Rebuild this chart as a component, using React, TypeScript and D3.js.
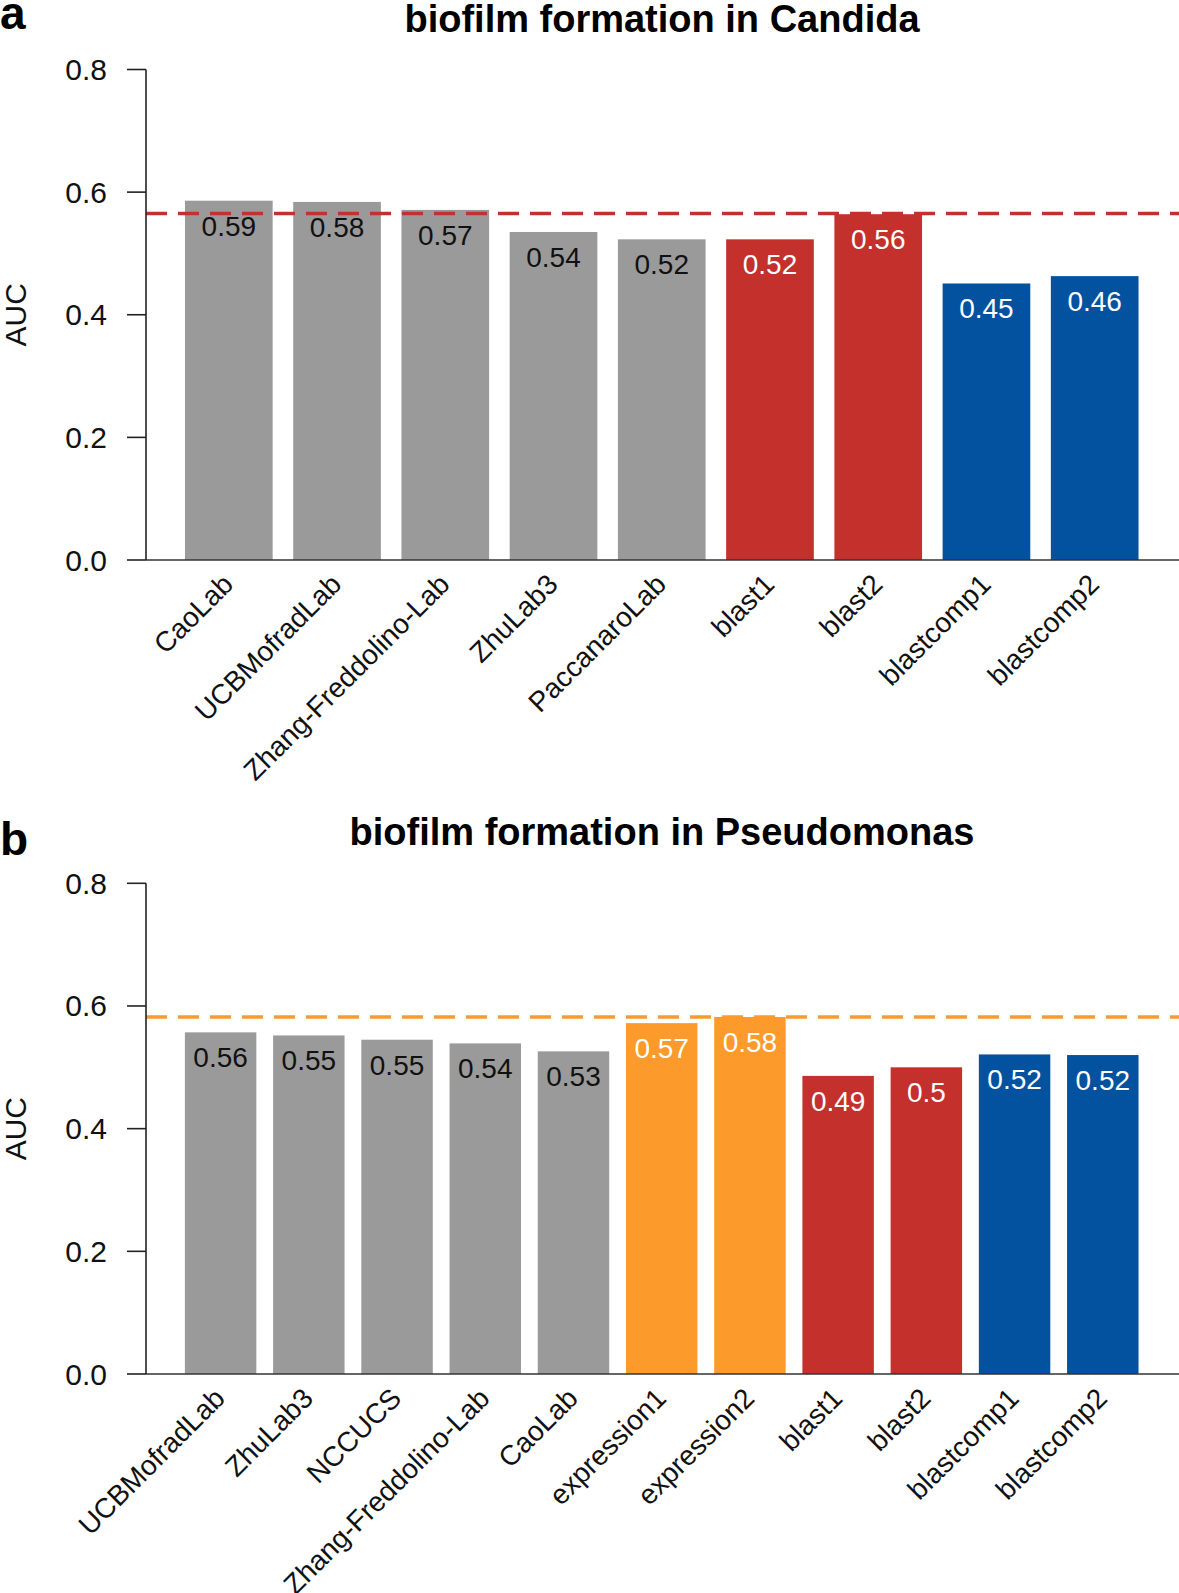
import React from "react";
import { scaleBand, scaleLinear } from "d3";

// panel a: Candida
const teamsA = ["CaoLab", "UCBMofradLab", "Zhang-Freddolino-Lab", "ZhuLab3", "PaccanaroLab", "blast1", "blast2", "blastcomp1", "blastcomp2"];
const aucA = [0.586, 0.584, 0.571, 0.535, 0.523, 0.523, 0.564, 0.451, 0.463];
const textA = ["0.59", "0.58", "0.57", "0.54", "0.52", "0.52", "0.56", "0.45", "0.46"];
const kindA = ["team", "team", "team", "team", "team", "blast", "blast", "blastcomp", "blastcomp"];
const refA = 0.565;

// panel b: Pseudomonas
const teamsB = ["UCBMofradLab", "ZhuLab3", "NCCUCS", "Zhang-Freddolino-Lab", "CaoLab", "expression1", "expression2", "blast1", "blast2", "blastcomp1", "blastcomp2"];
const aucB = [0.557, 0.552, 0.545, 0.539, 0.526, 0.572, 0.582, 0.486, 0.5, 0.521, 0.52];
const textB = ["0.56", "0.55", "0.55", "0.54", "0.53", "0.57", "0.58", "0.49", "0.5", "0.52", "0.52"];
const kindB = ["team", "team", "team", "team", "team", "expression", "expression", "blast", "blast", "blastcomp", "blastcomp"];
const refB = 0.582;

const yTicks = [0, 0.2, 0.4, 0.6, 0.8];
const yTickLabels = ["0.0", "0.2", "0.4", "0.6", "0.8"];

const colors = {
  team: "#9a9a9a",
  expression: "#fc9a2b",
  blast: "#c4302b",
  blastcomp: "#03529f",
};

const font = "'Liberation Sans', Arial, Helvetica, sans-serif";

const Panel = ({ letter, letterY, title, titleY, teams, auc, text, kind, refValue, refColor, y0, y1, x0, x1 }) => {
  const axisX = 146;

  const yScale = scaleLinear().domain([0, 0.8]).range([y0, y1]);
  const xScale = scaleBand()
    .domain(teams)
    .range([x0, x1])
    .paddingInner(0.19)
    .paddingOuter(0.095);

  const bars = teams.map((t, i) => (
    <rect
      key={t}
      x={xScale(t)}
      y={yScale(auc[i])}
      width={xScale.bandwidth()}
      height={yScale(0) - yScale(auc[i])}
      fill={colors[kind[i]]}
    ></rect>
  ));

  const values = teams.map((t, i) => (
    <text
      key={t}
      x={xScale(t) + xScale.bandwidth() / 2}
      y={yScale(auc[i]) + 35}
      textAnchor="middle"
      fontSize="28"
      fill={kind[i] === "team" ? "#111" : "#fff"}
    >
      {text[i]}
    </text>
  ));

  const labels = teams.map((t) => {
    const cx = xScale(t) + xScale.bandwidth() / 2 + 6;
    const cy = yScale(0) + 26;
    return (
      <text key={t} x={cx} y={cy} textAnchor="end" fontSize="28" fill="#111" transform={`rotate(-45 ${cx} ${cy})`}>
        {t}
      </text>
    );
  });

  const ticks = yTicks.map((v, i) => (
    <g key={v}>
      <line x1={127} x2={axisX} y1={yScale(v)} y2={yScale(v)} stroke="#222" strokeWidth="1.6"></line>
      <text x={107} y={yScale(v) + 10.5} textAnchor="end" fontSize="30" fill="#111">
        {yTickLabels[i]}
      </text>
    </g>
  ));

  const midY = (y0 + y1) / 2;

  return (
    <g fontFamily={font}>
      <text x={0} y={letterY} fontSize="46" fontWeight="bold" fill="#000">{letter}</text>
      <text x={662} y={titleY} textAnchor="middle" fontSize="38" fontWeight="bold" fill="#000">{title}</text>
      {bars}
      <line x1={axisX} x2={1179} y1={yScale(refValue)} y2={yScale(refValue)} stroke={refColor} strokeWidth="3.5" strokeDasharray="21 11"></line>
      <line x1={axisX} x2={1179} y1={yScale(0)} y2={yScale(0)} stroke="#333" strokeWidth="1.6"></line>
      <line x1={axisX} x2={axisX} y1={yScale(0.8)} y2={yScale(0)} stroke="#222" strokeWidth="1.6"></line>
      {ticks}
      <text x={26} y={midY} fontSize="30" fill="#111" textAnchor="middle" transform={`rotate(-90 26 ${midY})`}>
        AUC
      </text>
      {values}
      {labels}
    </g>
  );
};

const App = () => {
  return (
    <svg width={1179} height={1593} viewBox="0 0 1179 1593" style={{ position: "absolute", left: 0, top: 0, background: "#fff" }}>
      <rect width={1179} height={1593} fill="#fff"></rect>
      <Panel
        letter="a"
        letterY={29}
        title="biofilm formation in Candida"
        titleY={32}
        teams={teamsA}
        auc={aucA}
        text={textA}
        kind={kindA}
        refValue={refA}
        refColor={colors.blast}
        y0={560}
        y1={69.5}
        x0={174.7}
        x1={1148.8}
      />
      <Panel
        letter="b"
        letterY={855}
        title="biofilm formation in Pseudomonas"
        titleY={845}
        teams={teamsB}
        auc={aucB}
        text={textB}
        kind={kindB}
        refValue={refB}
        refColor={colors.expression}
        y0={1374}
        y1={883.3}
        x0={176.5}
        x1={1146.9}
      />
    </svg>
  );
};

export default App;
